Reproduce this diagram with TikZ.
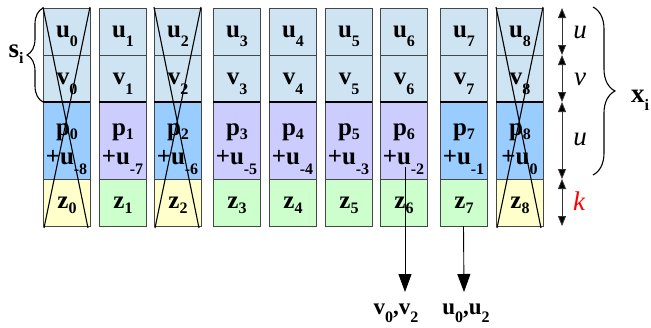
\documentclass[tikz,border=0pt]{standalone}
\usepackage{fontspec}
\setmainfont{Liberation Serif}
\usetikzlibrary{arrows.meta,decorations.pathreplacing}
\definecolor{ublue}{RGB}{206,228,243}
\definecolor{pblue}{RGB}{153,204,255}
\definecolor{plav}{RGB}{204,204,255}
\definecolor{zyel}{RGB}{255,255,204}
\definecolor{zgrn}{RGB}{204,255,204}
\definecolor{edge}{RGB}{70,70,70}
\newcommand\lsub[2]{\raisebox{-#1pt}{\fontsize{16}{16}\selectfont\bfseries #2}}
\begin{document}
\begin{tikzpicture}[x=1pt,y=-1pt,
  cell/.style={draw=edge,line width=0.7pt,minimum width=47pt,inner sep=0pt,outer sep=0pt},
  lbl/.style={anchor=base,inner sep=0pt,font=\fontsize{25}{25}\selectfont\bfseries},
  side/.style={anchor=base,inner sep=0pt,font=\fontsize{27}{27}\selectfont\itshape},
  dim/.style={draw=black!80,line width=0.8pt,{Triangle[length=10pt,width=8pt,fill=black]}-{Triangle[length=10pt,width=8pt,fill=black]}},
  down/.style={draw=black,line width=0.9pt,-{Triangle[length=18pt,width=13pt]}},
  cross/.style={draw=black,line width=1.1pt},
  brc/.style={draw=black,line width=1.1pt,decorate}
]
\useasboundingbox (0,0) rectangle (651,327);
\foreach \i/\x/\pc/\zc in {0/43/pblue/zyel,1/99/plav/zgrn,2/154/pblue/zyel,3/213/plav/zgrn,4/269/plav/zgrn,5/325/plav/zgrn,6/380/plav/zgrn,7/440/pblue/zgrn,8/496/pblue/zyel}{
  \pgfmathtruncatemacro\m{\i-8}
  \node[cell,fill=ublue,minimum height=47pt] (u\i) at (\x+23.5,31.5) {};
  \node[cell,fill=ublue,minimum height=47pt] (v\i) at (\x+23.5,78.5) {};
  \node[cell,fill=\pc,minimum height=77pt] (p\i) at (\x+23.5,140.5) {};
  \node[cell,fill=\zc,minimum height=47pt] (z\i) at (\x+23.5,202.5) {};
  \draw[line width=1.3pt] (v\i.south west) -- (v\i.south east);
  \node[lbl] (tu\i) at (\x+24,37.5) {u\lsub{9}{\i}};
  \node[lbl] (tv\i) at (\x+24,84) {v\lsub{10}{\i}};
  \node[lbl] (tp\i) at (\x+24,135) {p\lsub{4}{\i}};
  \node[lbl] (tq\i) at (\x+23.5,164) {+u\lsub{10}{\m}};
  \node[lbl] (tz\i) at (\x+24,208) {z\lsub{5}{\i}};
}
% crosses
\foreach \x in {43,154,496}{
  \draw[cross] (\x,7) -- (\x+45,228);
  \draw[cross] (\x+47,7) -- (\x+1,228);
}
% left brace s_i
\draw[brc,decoration={brace,amplitude=16pt}] (43,102) -- (43,8);
\node[anchor=base,inner sep=0pt,font=\fontsize{27}{27}\selectfont\bfseries] (si) at (16,57) {s\lsub{6}{i}};
% right dimension arrows
\coordinate (d0) at (562,8);
\coordinate (d1) at (562,55);
\coordinate (d2) at (562,102);
\coordinate (d3) at (562,179);
\coordinate (d4) at (562,226);
\draw[dim] (d0) -- (d1);
\draw[dim] (d1) -- (d2);
\draw[dim] (d2) -- (d3);
\draw[dim] (d3) -- (d4);
\node[side] (lu1) at (580,38) {u};
\node[side] (lv) at (580,85) {v};
\node[side] (lu2) at (580,145) {u};
\node[side,text=red] (lk) at (579,210) {k};
% right brace x_i
\draw[brc,decoration={brace,amplitude=22pt}] (593,7) -- (593,175);
\node[anchor=base,inner sep=0pt,font=\fontsize{27}{27}\selectfont\bfseries] (xi) at (640,102) {x\lsub{8}{i}};
% bottom arrows
\coordinate (a1) at (405,167);
\coordinate (e1) at (405,292);
\coordinate (e2) at (464,292);
\draw[down] (a1) -- (e1);
\draw[down] (z7.south) -- (e2);
\node[anchor=base,inner sep=0pt,font=\fontsize{23}{23}\selectfont\bfseries] (b1) at (396,314) {v\lsub{8}{0},v\lsub{8}{2}};
\node[anchor=base,inner sep=0pt,font=\fontsize{23}{23}\selectfont\bfseries] (b2) at (466,314) {u\lsub{8}{0},u\lsub{8}{2}};
\end{tikzpicture}
\end{document}
